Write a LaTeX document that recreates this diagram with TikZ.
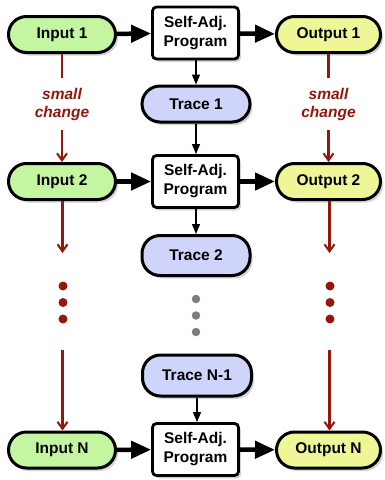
\documentclass[tikz,border=0pt]{standalone}
\usepackage{fontspec}
\setmainfont{Liberation Sans}
\usetikzlibrary{arrows.meta,shadows}
\definecolor{ingreen}{RGB}{196,246,162}
\definecolor{outyellow}{RGB}{238,246,152}
\definecolor{traceblue}{RGB}{206,212,250}
\definecolor{darkred}{RGB}{150,22,12}
\definecolor{dotgray}{RGB}{125,125,125}
\tikzset{
  shad/.style={drop shadow={shadow xshift=2.5pt,shadow yshift=-3pt,opacity=0.28,fill=black!60}},
  pill/.style={shad,draw=black,line width=3pt,rounded corners=18pt,minimum width=106pt,minimum height=36pt,inner sep=0pt,font=\fontsize{15.5}{18}\selectfont\bfseries},
  inpill/.style={pill,fill=ingreen},
  outpill/.style={pill,fill=outyellow},
  tracepill/.style={pill,fill=traceblue},
  progbox/.style={shad,draw=black,fill=white,line width=2.8pt,rounded corners=4pt,minimum width=86pt,minimum height=52pt,inner sep=0pt,align=center,font=\fontsize{15.5}{19}\selectfont\bfseries},
  bigarrow/.style={line width=4.5pt,-{Triangle[length=20pt,width=17pt]}},
  thinarrow/.style={line width=1.3pt,-{Triangle[length=10pt,width=8pt]}},
  redline/.style={draw=darkred,line width=2.2pt},
  redarrow/.style={redline,-{Straight Barb[length=7pt,width=10pt,line width=2pt]}},
  change/.style={text=darkred,align=center,font=\fontsize{15.5}{18}\selectfont\bfseries\itshape,minimum height=52pt,inner sep=0pt},
  reddot/.style={circle,fill=darkred,minimum size=9pt,inner sep=0pt},
  graydot/.style={circle,fill=dotgray,minimum size=8.5pt,inner sep=0pt},
}
\begin{document}
\begin{tikzpicture}[x=1pt,y=-1pt]
\useasboundingbox (0,0) rectangle (384,480);
% nodes
\node[inpill,minimum width=107pt] (in1) at (62,34.5) {Input 1};
\node[progbox] (p1) at (195.5,33) {Self-Adj.\\Program};
\node[outpill,minimum width=104pt] (o1) at (328.5,34.5) {Output 1};
\node[tracepill,minimum width=108pt] (t1) at (196,104) {Trace 1};
\node[change] (sc1) at (62,104) {small\\change};
\node[change] (sc2) at (328.5,104) {small\\change};

\node[inpill,minimum width=107pt] (in2) at (62,181.5) {Input 2};
\node[progbox] (p2) at (195.5,181.5) {Self-Adj.\\Program};
\node[outpill,minimum width=104pt] (o2) at (328.5,181.5) {Output 2};
\node[tracepill,minimum width=108pt,minimum height=40pt] (t2) at (196,255.5) {Trace 2};

\node[tracepill,minimum width=109pt,minimum height=41pt] (tn1) at (197,375.5) {Trace N-1};
\node[inpill,minimum width=107pt] (inN) at (62,450) {Input N};
\node[progbox] (pN) at (195.5,449.5) {Self-Adj.\\Program};
\node[outpill,minimum width=104pt] (oN) at (328.5,450) {Output N};

% dots
\node[reddot] (rl1) at (63,286) {};
\node[reddot] (rl2) at (63,302.5) {};
\node[reddot] (rl3) at (63,319) {};
\node[reddot] (rr1) at (330,286) {};
\node[reddot] (rr2) at (330,302.5) {};
\node[reddot] (rr3) at (330,319) {};
\node[graydot] (g1) at (196,299) {};
\node[graydot] (g2) at (196,315.5) {};
\node[graydot] (g3) at (196,332) {};

\coordinate (la) at (62.5,253);
\coordinate (ra) at (329.5,253);
\coordinate (lb) at (62.5,350);
\coordinate (rb) at (329.5,350);

% black connectors
\draw[bigarrow] (in1) -- (p1);
\draw[bigarrow] (p1) -- (o1);
\draw[bigarrow] (in2) -- (p2);
\draw[bigarrow] (p2) -- (o2);
\draw[bigarrow] (inN) -- (pN);
\draw[bigarrow] (pN) -- (oN);
\draw[thinarrow] (p1.south -| t1) -- (t1);
\draw[thinarrow] (t1) -- (t1 |- p2.north);
\draw[thinarrow] (p2.south -| t2) -- (t2);
\draw[thinarrow] (tn1) -- (tn1 |- pN.north);

% red connectors
\draw[redline] (in1) -- (sc1);
\draw[redarrow] (sc1) -- (in2);
\draw[redline] (o1) -- (sc2);
\draw[redarrow] (sc2) -- (o2);
\draw[redarrow] (in2.south -| la) -- (la);
\draw[redarrow] (o2.south -| ra) -- (ra);
\draw[redarrow] (lb) -- (inN.north -| lb);
\draw[redarrow] (rb) -- (oN.north -| rb);
\end{tikzpicture}
\end{document}
